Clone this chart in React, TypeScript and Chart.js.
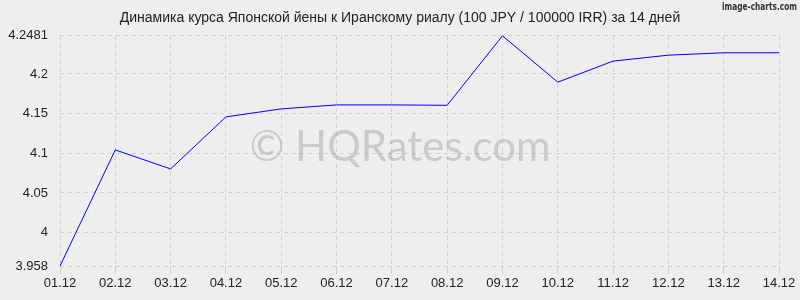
import React, { useEffect, useRef } from "react";
import { Chart, registerables } from "chart.js";

Chart.register(...registerables);

const titleText = "Динамика курса Японской йены к Иранскому риалу (100 JPY / 100000 IRR) за 14 дней";
const categories = ["01.12", "02.12", "03.12", "04.12", "05.12", "06.12", "07.12", "08.12", "09.12", "10.12", "11.12", "12.12", "13.12", "14.12"];
const rates = [3.958, 4.1043, 4.0803, 4.1459, 4.156, 4.161, 4.161, 4.1605, 4.2481, 4.1897, 4.2162, 4.2237, 4.2267, 4.2267];
const yTicks = [3.958, 4, 4.05, 4.1, 4.15, 4.2, 4.2481];
const yMin = 3.958;
const yMax = 4.2481;

const FONT = "'Liberation Sans', Arial, sans-serif";

const decorPlugin = {
  id: "decor",
  beforeDraw(chart: any) {
    const { ctx, width, height } = chart;
    ctx.save();
    ctx.fillStyle = "#eeeeee";
    ctx.fillRect(0, 0, width, height);
    ctx.restore();
  },
  beforeDatasetsDraw(chart: any) {
    const { ctx } = chart;
    ctx.save();
    ctx.font = "42px Lato, 'Noto Sans', sans-serif";
    ctx.fillStyle = "rgba(160,160,160,0.45)";
    ctx.textAlign = "center";
    ctx.textBaseline = "middle";
    ctx.fillText("© HQRates.com", 400, 147);
    ctx.restore();
  },
  afterDraw(chart: any) {
    const { ctx, width } = chart;
    ctx.save();
    ctx.font = "14px " + FONT;
    ctx.fillStyle = "#222222";
    ctx.textAlign = "center";
    ctx.textBaseline = "middle";
    ctx.fillText(titleText, width / 2, 18);
    ctx.font = "bold 11px 'DejaVu Sans Condensed', 'Liberation Sans Narrow', sans-serif";
    ctx.fillStyle = "#333333";
    ctx.textAlign = "right";
    const w = ctx.measureText("image-charts.com").width;
    const sx = 75 / w;
    ctx.translate(797, 7);
    ctx.scale(sx, 1);
    ctx.fillText("image-charts.com", 0, 0);
    ctx.restore();
  },
};

export default function App() {
  const ref = useRef<HTMLCanvasElement>(null);
  useEffect(() => {
    document.body.style.margin = "0";
    const chart = new Chart(ref.current!, {
      type: "line",
      data: {
        labels: categories,
        datasets: [
          {
            data: rates,
            borderColor: "#0000ff",
            borderWidth: 1,
            pointRadius: 0,
            tension: 0,
            fill: false,
          },
        ],
      },
      options: {
        animation: false,
        responsive: false,
        layout: { padding: { left: 0, right: 21, top: 0, bottom: 0 } },
        plugins: {
          legend: { display: false },
          tooltip: { enabled: false },
          title: {
            display: true,
            text: titleText,
            color: "rgba(0,0,0,0)",
            font: { family: FONT, size: 14, weight: "normal" },
            padding: { top: 10, bottom: 9 },
          },
        },
        scales: {
          x: {
            offset: false,
            grid: {
              color: "#d0d0d0",
              tickColor: "#d0d0d0",
              tickLength: 8,
              drawTicks: true,
            },
            border: { display: false, dash: [4, 4] },
            ticks: {
              color: "#222222",
              font: { family: FONT, size: 13 },
              padding: 2,
              maxRotation: 0,
              autoSkip: false,
            },
            afterFit(scale: any) {
              scale.height = 34;
            },
          },
          y: {
            min: yMin,
            max: yMax,
            border: { display: false, dash: [4, 4] },
            grid: { color: "#d0d0d0", drawTicks: false },
            ticks: {
              color: "#222222",
              font: { family: FONT, size: 13 },
              padding: 12,
              callback: (v: any) => String(v),
            },
            afterBuildTicks(scale: any) {
              scale.ticks = yTicks.map((v) => ({ value: v }));
            },
            afterFit(scale: any) {
              scale.width = 60;
            },
          },
        },
      },
      plugins: [decorPlugin],
    } as any);
    return () => chart.destroy();
  }, []);
  return <canvas ref={ref} width={800} height={300} style={{ display: "block" }} />;
}
